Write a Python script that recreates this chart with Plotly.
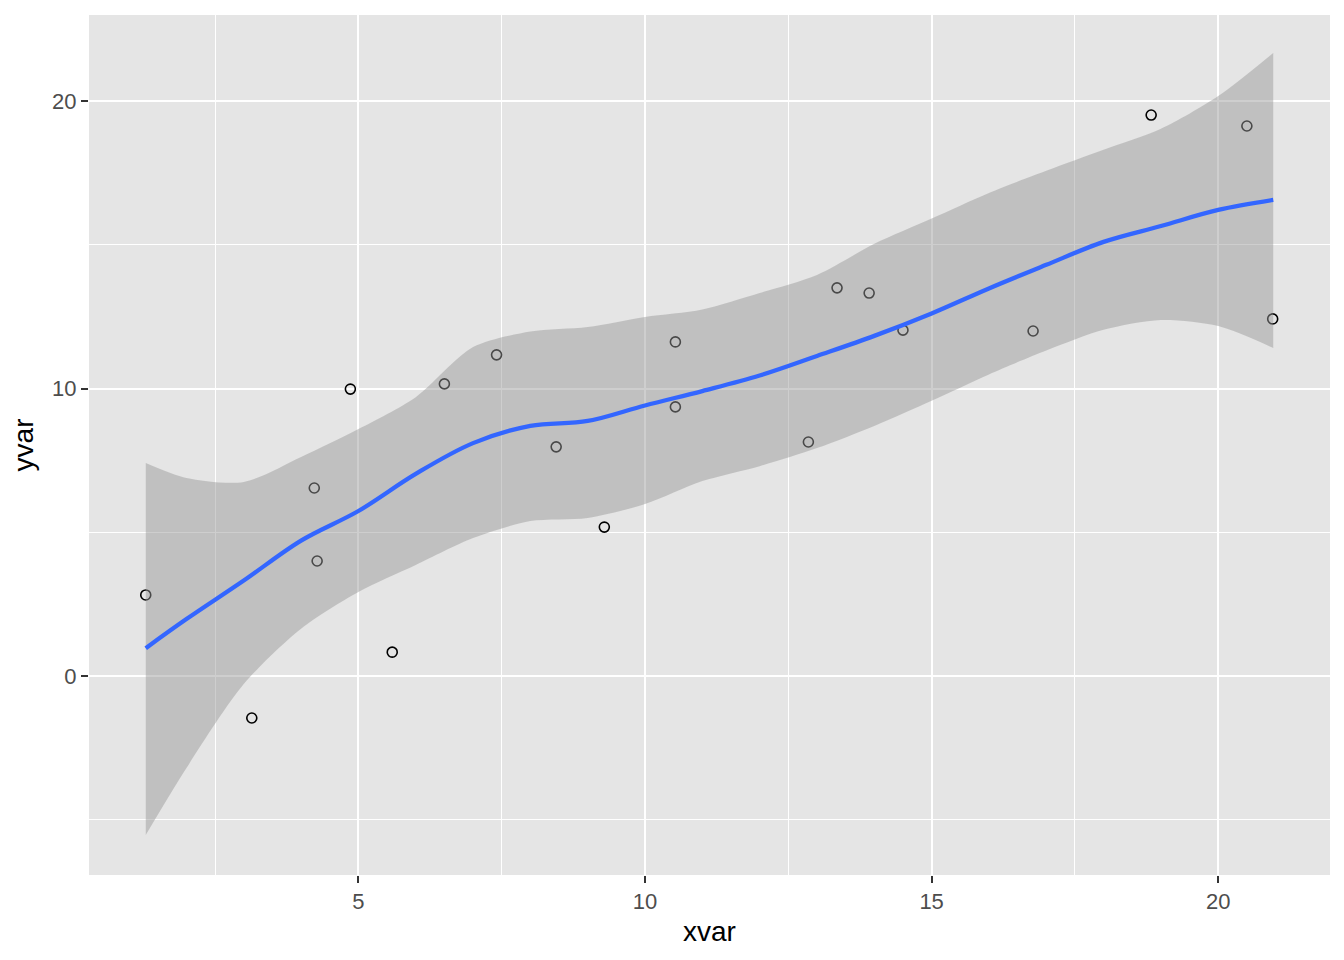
import plotly.graph_objects as go

# observed points
xvar = [1.29, 3.14, 4.23, 4.28, 4.86, 5.59, 6.50, 7.41, 8.45, 9.29,
        10.53, 10.53, 12.85, 13.35, 13.91, 14.50, 16.77, 18.83, 20.50, 20.95]
yvar = [2.82, -1.46, 6.54, 4.00, 9.98, 0.83, 10.16, 11.17, 7.97, 5.18,
        11.62, 9.36, 8.14, 13.50, 13.32, 12.03, 12.00, 19.51, 19.13, 12.42]

# loess fit with its confidence band
fit_x = [1.29, 2, 3, 4, 5, 6, 7, 8, 9, 10, 11, 12, 13, 14, 15, 16, 17, 18, 19, 20, 20.96]
fit_y = [0.97, 1.98, 3.32, 4.71, 5.74, 7.03, 8.10, 8.70, 8.87, 9.41, 9.91,
         10.45, 11.13, 11.83, 12.61, 13.48, 14.30, 15.10, 15.65, 16.21, 16.56]
fit_hi = [7.41, 6.89, 6.75, 7.62, 8.59, 9.70, 11.44, 11.98, 12.14, 12.49, 12.75,
          13.32, 13.95, 15.03, 15.91, 16.80, 17.57, 18.30, 19.03, 20.17, 21.67]
fit_lo = [-5.53, -3.20, -0.28, 1.64, 2.92, 3.86, 4.80, 5.39, 5.50, 5.98, 6.78,
          7.30, 7.93, 8.70, 9.57, 10.49, 11.32, 12.04, 12.38, 12.17, 11.41]

fig = go.Figure()

fig.add_trace(go.Scatter(x=xvar, y=yvar, mode='markers',
                         marker=dict(symbol='circle-open', size=10, color='black',
                                     line=dict(width=1.6, color='black')),
                         showlegend=False))

# band drawn over the points, like ggplot does
fig.add_trace(go.Scatter(x=fit_x, y=fit_lo, mode='lines',
                         line=dict(width=0, shape='spline', smoothing=0.8),
                         hoverinfo='skip', showlegend=False))
fig.add_trace(go.Scatter(x=fit_x, y=fit_hi, mode='lines', fill='tonexty',
                         fillcolor='rgba(153,153,153,0.48)',
                         line=dict(width=0, shape='spline', smoothing=0.8),
                         hoverinfo='skip', showlegend=False))

fig.add_trace(go.Scatter(x=fit_x, y=fit_y, mode='lines',
                         line=dict(color='#3366FF', width=4.3, shape='spline'),
                         showlegend=False))

font = 'Liberation Sans, Arial'
axis_style = dict(showline=False, zeroline=False, showgrid=True,
                  gridcolor='white', gridwidth=2,
                  ticks='outside', ticklen=7, tickwidth=2, tickcolor='#333333',
                  tickfont=dict(family=font, size=22, color='#4D4D4D'))

fig.update_xaxes(range=[0.30, 21.95], tick0=0, dtick=5,
                 minor=dict(tick0=2.5, dtick=5, showgrid=True, gridcolor='white',
                            gridwidth=1, ticks=''),
                 title=dict(text='xvar', standoff=7,
                            font=dict(family=font, size=28, color='black')),
                 **axis_style)
fig.update_yaxes(range=[-6.92, 22.99], tick0=0, dtick=10,
                 minor=dict(tick0=5, dtick=10, showgrid=True, gridcolor='white',
                            gridwidth=1, ticks=''),
                 title=dict(text='yvar', standoff=10,
                            font=dict(family=font, size=28, color='black')),
                 **axis_style)

# page body has an 8px margin, so the figure is a bit smaller than the window
fig.update_layout(width=1336, height=952,
                  plot_bgcolor='#E5E5E5', paper_bgcolor='white',
                  margin=dict(l=81, r=14, t=7, b=85, autoexpand=False),
                  showlegend=False)

fig.write_html("out.html")
